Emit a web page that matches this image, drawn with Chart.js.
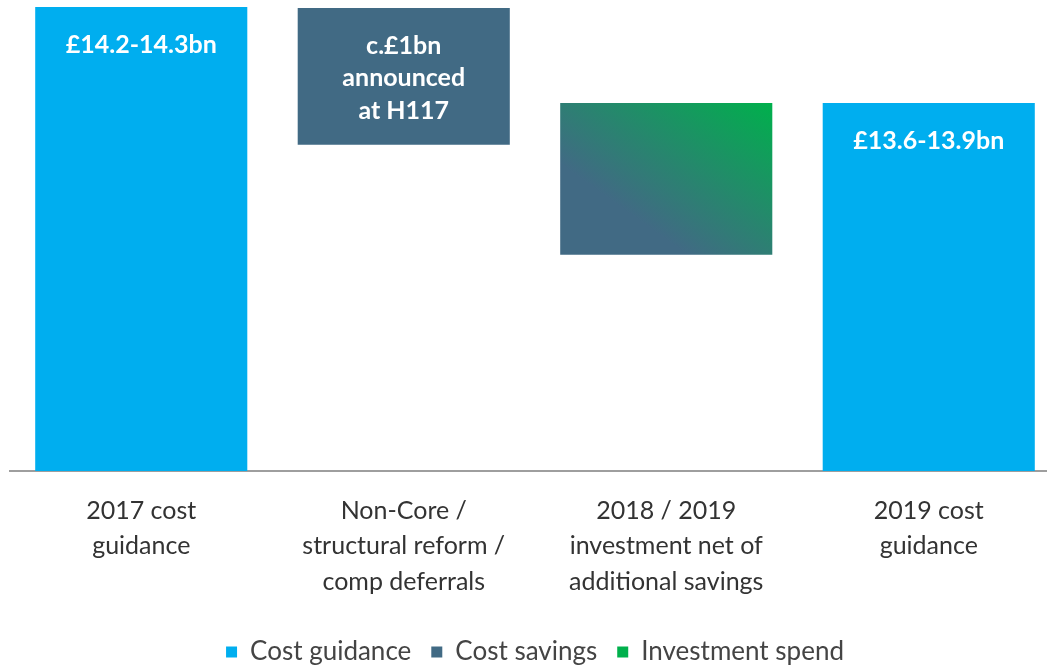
<!DOCTYPE html>
<html>
<head>
<meta charset="utf-8">
<script src="https://cdn.jsdelivr.net/npm/chart.js@4/dist/chart.umd.min.js"></script>
<style>
  html, body { margin: 0; padding: 0; background: #fff; overflow: hidden; }
  #wrap { position: absolute; left: 0; top: 0; width: 1060px; height: 675px; }
</style>
</head>
<body>
<div id="wrap"><canvas id="costChart"></canvas></div>
<script>
// Schematic waterfall: bar heights are relative (first bar = 100)
const categories = [
    ['2017 cost', 'guidance'],
    ['Non-Core /', 'structural reform /', 'comp deferrals'],
    ['2018 / 2019', 'investment net of', 'additional savings'],
    ['2019 cost', 'guidance']
];
const barRanges = [[0, 100], [70.3, 99.8], [46.6, 79.3], [0, 79.3]];
const barLabels = [['£14.2-14.3bn'], ['c.£1bn', 'announced', 'at H117'], [], ['£13.6-13.9bn']];
const barKinds = ['guidance', 'savings', 'investment', 'guidance'];

const legendNames = ['Cost guidance', 'Cost savings', 'Investment spend'];
const legendColors = ['#00AEEF', '#416A84', '#00B04C'];

const FONT = 'Lato, "Noto Sans", sans-serif';
const BAR_PCT = 0.808;

function barFill(ctx) {
    const kind = barKinds[ctx.dataIndex];
    if (kind === 'guidance') return legendColors[0];
    if (kind === 'savings') return legendColors[1];
    // investment bar: blend from cost-savings blue (bottom-left) to green (top-right),
    // isolines parallel to the top-left / bottom-right diagonal
    const chart = ctx.chart;
    const xs = chart.scales.x, ys = chart.scales.y;
    if (!xs || !ys || !chart.chartArea) return legendColors[1];
    const cx = xs.getPixelForValue(ctx.dataIndex);
    const w = xs.width / categories.length * BAR_PCT;
    const r = barRanges[ctx.dataIndex];
    const top = ys.getPixelForValue(r[1]), bottom = ys.getPixelForValue(r[0]);
    if (!isFinite(cx) || !isFinite(top)) return legendColors[1];
    const h = bottom - top;
    const x0 = cx - w / 2, y0 = bottom;
    const k = 2 * w * h / (w * w + h * h);
    const g = chart.ctx.createLinearGradient(x0, y0, x0 + h * k, y0 - w * k);
    g.addColorStop(0, legendColors[1]);
    g.addColorStop(0.3, legendColors[1]);
    g.addColorStop(1, legendColors[2]);
    return g;
}

const barTextPlugin = {
    id: 'barText',
    afterDatasetsDraw(chart) {
        const c = chart.ctx;
        const meta = chart.getDatasetMeta(0);
        c.save();
        c.fillStyle = '#ffffff';
        c.font = '700 25px ' + FONT;
        c.textAlign = 'center';
        c.textBaseline = 'middle';
        meta.data.forEach((el, i) => {
            const top = Math.min(el.y, el.base);
            barLabels[i].forEach((t, j) => {
                c.fillText(t, el.x, top + 38 + j * 32.5);
            });
        });
        c.restore();
    }
};

new Chart(document.getElementById('costChart'), {
    type: 'bar',
    data: {
        labels: categories,
        datasets: [{
            data: barRanges,
            backgroundColor: barFill,
            borderWidth: 0,
            borderSkipped: false,
            categoryPercentage: 1,
            barPercentage: BAR_PCT
        }]
    },
    options: {
        responsive: true,
        maintainAspectRatio: false,
        animation: false,
        layout: { padding: { left: 10, right: 0, top: 7, bottom: 0 } },
        scales: {
            x: {
                grid: { display: false },
                border: { display: true, color: '#9E9E9E', width: 2 },
                ticks: {
                    color: '#333333',
                    font: { family: FONT, size: 25, lineHeight: 1.42 },
                    padding: 14,
                    maxRotation: 0,
                    autoSkip: false
                },
                afterFit(scale) { scale.height = 148; }
            },
            y: {
                display: false,
                min: 0,
                max: 100
            }
        },
        plugins: {
            tooltip: { enabled: false },
            legend: {
                position: 'bottom',
                labels: {
                    color: '#444444',
                    font: { family: FONT, size: 26 },
                    boxWidth: 11,
                    boxHeight: 11,
                    padding: 20,
                    generateLabels() {
                        return legendNames.map((n, i) => ({
                            text: n,
                            fillStyle: legendColors[i],
                            strokeStyle: legendColors[i],
                            lineWidth: 0,
                            fontColor: '#444444',
                            hidden: false,
                            datasetIndex: 0
                        }));
                    }
                },
                onClick() {}
            }
        }
    },
    plugins: [barTextPlugin]
});
</script>
</body>
</html>
